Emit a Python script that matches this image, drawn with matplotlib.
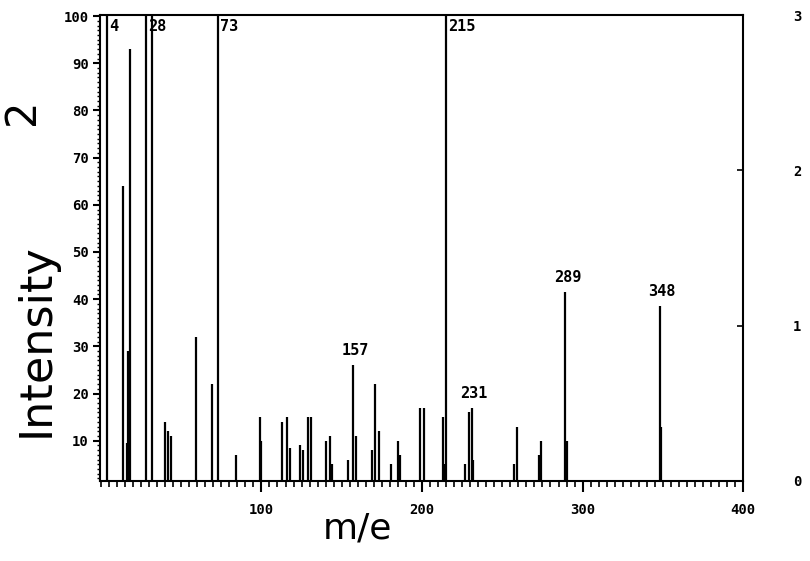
import matplotlib
matplotlib.use("Agg")
import matplotlib.pyplot as plt
from matplotlib.ticker import MultipleLocator

# mass spectrum peaks (m/e, relative intensity); values above 100 are clipped at the top
mz = [4, 14, 16, 17, 18, 28, 32, 40, 42, 44, 59, 69, 73, 84,
      99, 100, 113, 116, 118, 124, 126, 129, 131, 140, 143, 144,
      154, 157, 159, 169, 171, 173, 181, 185, 186, 199, 201,
      213, 214, 215, 227, 229, 231, 232, 257, 259, 273, 274,
      289, 290, 348, 349]
intensity = [100, 64, 9.5, 29, 93, 100, 100, 14, 12, 11, 32, 22, 100, 7,
             15, 10, 14, 15, 8.5, 9, 8, 15, 15, 10, 11, 5,
             6, 26, 11, 8, 22, 12, 5, 10, 7, 17, 17,
             15, 5, 100, 5, 16, 17, 6, 5, 13, 7, 10,
             41.5, 10, 38.6, 13]

# labelled peaks: tall ones get their label beside the line at the top
top_labels = [4, 28, 73, 215]
peak_labels = [157, 231, 289, 348]

left_ticks = [10, 20, 30, 40, 50, 60, 70, 80, 90, 100]
bottom_ticks = [100, 200, 300, 400]
right_ticks = [0, 1, 2, 3]

mono = "DejaVu Sans Mono"

fig = plt.figure(figsize=(8.1, 5.61), dpi=100)
ax = fig.add_axes([0.1235, 0.143, 0.794, 0.830])

ax.vlines(mz, 0, intensity, color="black", lw=1.6)

ax.set_xlim(-0.5, 400)
ax.set_ylim(1.5, 100.2)

for s in ax.spines.values():
    s.set_linewidth(1.5)

ax.set_xticks(bottom_ticks)
ax.xaxis.set_minor_locator(MultipleLocator(5))
ax.set_yticks(left_ticks)
ax.yaxis.set_minor_locator(MultipleLocator(1))
ax.tick_params(axis="x", which="major", direction="out", length=8, width=1.5, pad=8)
ax.tick_params(axis="x", which="minor", direction="out", length=4, width=1.2)
ax.tick_params(axis="y", which="major", direction="out", length=5, width=1.5, pad=3)
ax.tick_params(axis="y", which="minor", direction="out", length=2, width=1)
for lab in ax.get_xticklabels() + ax.get_yticklabels():
    lab.set_fontfamily(mono)
    lab.set_fontweight("bold")
    lab.set_fontsize(10)

# secondary scale on the right
ax2 = ax.twinx()
ax2.set_ylim(0, 3)
ax2.set_yticks(right_ticks)
ax2.tick_params(axis="y", direction="in", length=4, width=1.2, pad=36)
for lab in ax2.get_yticklabels():
    lab.set_fontfamily(mono)
    lab.set_fontweight("bold")
    lab.set_fontsize(10)
for s in ax2.spines.values():
    s.set_visible(False)

lookup = dict(zip(mz, intensity))
for m in top_labels:
    ax.text(m + 1.5, 99.4, str(m), ha="left", va="top",
            fontfamily=mono, fontsize=11, fontweight="bold")
for m in peak_labels:
    ax.text(m + 1.5, lookup[m] + 1.5, str(m), ha="center", va="bottom",
            fontfamily=mono, fontsize=11, fontweight="bold")

# axis titles, placed as in the scanned figure
fig.text(357 / 810, 1 - 528 / 561, "m/e", fontsize=26, ha="center", va="center")
fig.text(36 / 810, 1 - 340 / 561, "Intensity", fontsize=32, rotation=90,
         ha="center", va="center")

# fragment of a rotated caption near the left edge
fig.text(22 / 810, 1 - 112 / 561, "2", rotation=90, fontsize=30,
         ha="center", va="center")

fig.savefig("out.png", dpi=100)
